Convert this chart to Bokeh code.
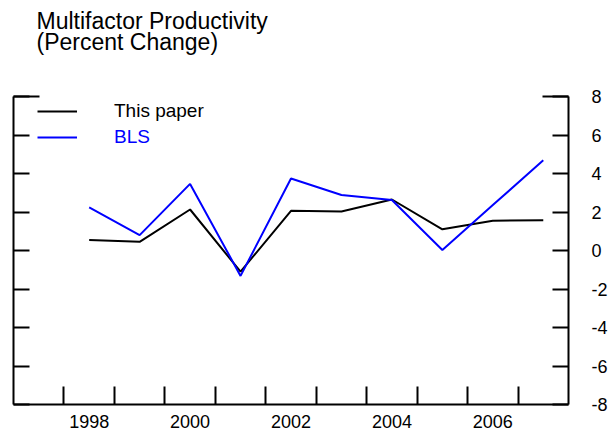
from bokeh.plotting import figure
from bokeh.models import Range1d, LinearAxis, FixedTicker, Legend, LegendItem, Title
from bokeh.embed import file_html
from bokeh.resources import INLINE

# ---- data ----
years = [1998, 1999, 2000, 2001, 2002, 2003, 2004, 2005, 2006, 2007]
this_paper = [0.55, 0.45, 2.13, -1.10, 2.06, 2.03, 2.65, 1.10, 1.55, 1.57]
bls = [2.24, 0.80, 3.46, -1.32, 3.74, 2.88, 2.62, 0.03, 2.36, 4.69]
x_label_years = [1998, 2000, 2002, 2004, 2006]
y_ticks = [-8, -6, -4, -2, 0, 2, 4, 6, 8]
y_tick_labels = ["-8", "-6", "-4", "-2", "0", "2", "4", "6", "8"]
series_names = ["This paper", "BLS"]
title_lines = ["Multifactor Productivity", "(Percent Change)"]

FONT = "Liberation Sans"

p = figure(width=614, height=432, output_backend="svg", toolbar_location=None,
           x_axis_location=None, y_axis_location=None,
           x_range=Range1d(years[0] - 1.5, years[-1] + 0.5),
           y_range=Range1d(y_ticks[0], y_ticks[-1]),
           min_border_left=13, min_border_right=46, min_border_top=96,
           min_border_bottom=28)
p.outline_line_color = None
p.xgrid.visible = False
p.ygrid.visible = False
p.background_fill_color = "white"

title_style = dict(text_font=FONT, text_font_size="23px", text_font_style="normal",
                   text_color="black", align="left", offset=23)

# heading line 1 (outermost)
p.title.text = title_lines[0]
for k, v in title_style.items():
    setattr(p.title, k, v)
p.title.vertical_align = "bottom"
p.title.standoff = 7

# spacer next to the frame, then heading line 2
p.add_layout(Title(text=" ", standoff=21, **title_style), "above")
p.add_layout(Title(text=title_lines[1], standoff=-18, vertical_align="top",
                   **title_style), "above")

common = dict(axis_line_width=2, axis_line_color="black",
              major_tick_line_width=2, major_tick_line_color="black",
              minor_tick_line_width=2, minor_tick_line_color="black",
              major_label_text_font=FONT, major_label_text_color="black")

# left axis: ticks only
left_ax = LinearAxis(ticker=FixedTicker(ticks=y_ticks, minor_ticks=[y_ticks[-1]]),
                     major_label_overrides={t: "" for t in y_ticks},
                     major_label_standoff=0, major_tick_in=16, major_tick_out=0,
                     minor_tick_in=26, minor_tick_out=0, **common)
p.add_layout(left_ax, "left")

# right axis with labels
right_ax = LinearAxis(ticker=FixedTicker(ticks=y_ticks, minor_ticks=[y_ticks[-1]]),
                      major_label_overrides=dict(zip(y_ticks, y_tick_labels)),
                      major_label_standoff=23, major_tick_in=16, major_tick_out=0,
                      minor_tick_in=26, minor_tick_out=0,
                      major_label_text_font_size="18px", **common)
p.add_layout(right_ax, "right")

# bottom axis: labels at even years, ticks between years
bottom_ax = LinearAxis(ticker=FixedTicker(ticks=x_label_years,
                                          minor_ticks=[y - 0.5 for y in years]),
                       major_label_overrides={y: str(y) for y in x_label_years},
                       major_label_standoff=10, major_tick_in=0, major_tick_out=0,
                       minor_tick_in=18, minor_tick_out=0,
                       major_label_text_font_size="18px", **common)
p.add_layout(bottom_ax, "below")

r1 = p.line(years, this_paper, line_color="black", line_width=2)
r2 = p.line(years, bls, line_color="#0000ff", line_width=2)

def make_legend(item, color, loc):
    return Legend(items=[item], location=loc, padding=0, margin=0,
                  glyph_width=40, glyph_height=20, label_height=20,
                  label_standoff=37, border_line_color=None,
                  background_fill_alpha=0, label_text_font=FONT,
                  label_text_font_size="19px", label_text_color=color)

p.add_layout(make_legend(LegendItem(label=series_names[0], renderers=[r1]), "black", (24, 282)))
p.add_layout(make_legend(LegendItem(label=series_names[1], renderers=[r2]), "#0000ff", (24, 256)))

open("out.html", "w").write(file_html(p, INLINE))
